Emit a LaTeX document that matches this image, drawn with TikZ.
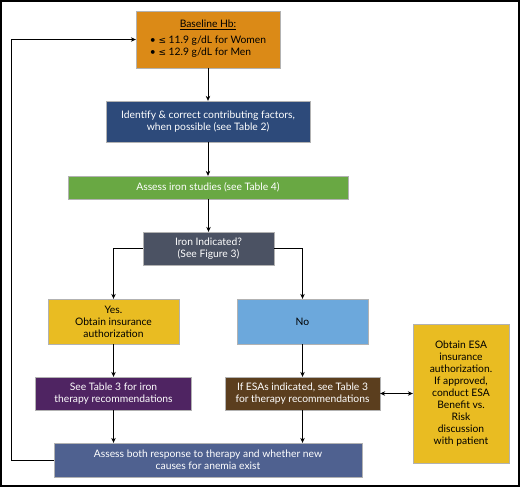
\documentclass[tikz,border=0pt]{standalone}
\usepackage{fontspec}
\setmainfont{Lato}
\newfontfamily\symfont{DejaVu Sans}
\usetikzlibrary{arrows.meta}
\definecolor{corange}{HTML}{DB8A17}
\definecolor{cdblue}{HTML}{2D4A7A}
\definecolor{cgreen}{HTML}{69A843}
\definecolor{cgray}{HTML}{4B5263}
\definecolor{cyellow}{HTML}{E9BC22}
\definecolor{clblue}{HTML}{6CA8DC}
\definecolor{cpurple}{HTML}{4F2462}
\definecolor{cbrown}{HTML}{5B3E1E}
\definecolor{cslate}{HTML}{4F6190}
\begin{document}
\begin{tikzpicture}[x=1pt,y=-1pt,
  box/.style={inner sep=1pt, align=center, font=\fontsize{10.3}{12}\selectfont, draw=white!70!black, line width=0.3pt},
  wbox/.style={box, text=white},
  kbox/.style={box, text=black},
  arr/.style={-{Stealth[length=5pt,width=4.5pt]}, line width=0.8pt},
  darr/.style={{Stealth[length=5pt,width=4.5pt]}-{Stealth[length=5pt,width=4.5pt]}, line width=0.8pt}]
\useasboundingbox (0,0) rectangle (520,488);
\draw[line width=1.5pt] (1,1) rectangle (519,486);

\node[kbox, fill=corange, minimum width=144pt, minimum height=57pt] (base) at (208,39.5)
  {\underline{Baseline Hb:}\\[4pt]\begin{tabular}{@{}l@{}}• {\symfont\fontsize{9}{12}\selectfont ≤} 11.9 g/dL for Women\\• {\symfont\fontsize{9}{12}\selectfont ≤} 12.9 g/dL for Men\end{tabular}};
\node[wbox, fill=cdblue, minimum width=204pt, minimum height=41pt] (ident) at (208,121.5)
  {Identify \& correct contributing factors,\\when possible (see Table 2)};
\node[wbox, fill=cgreen, minimum width=280pt, minimum height=23pt] (iron) at (208,187.5)
  {Assess iron studies (see Table 4)};
\node[wbox, fill=cgray, minimum width=131pt, minimum height=33pt] (ind) at (208.5,248.5)
  {Iron Indicated?\\(See Figure 3)};
\node[kbox, fill=cyellow, minimum width=131pt, minimum height=45pt] (yes) at (113.5,321.5)
  {Yes.\\Obtain insurance\\authorization};
\node[kbox, fill=clblue, minimum width=131pt, minimum height=45pt] (no) at (302.5,321.5)
  {No};
\node[wbox, fill=cpurple, minimum width=156pt, minimum height=33pt] (fe) at (113.5,393.5)
  {See Table 3 for iron\\therapy recommendations};
\node[wbox, fill=cbrown, minimum width=155pt, minimum height=33pt] (esa) at (302.5,393.5)
  {If ESAs indicated, see Table 3\\for therapy recommendations};
\node[kbox, fill=cyellow, minimum width=96pt, minimum height=139pt] (auth) at (461,393.5)
  {Obtain ESA\\insurance\\authorization.\\If approved,\\conduct ESA\\Benefit vs.\\Risk\\discussion\\with patient};
\node[wbox, fill=cslate, minimum width=308pt, minimum height=34pt] (resp) at (208,460)
  {Assess both response to therapy and whether new\\causes for anemia exist};

\coordinate (lb) at (11,460);
\coordinate (lt) at (11,39.5);

\draw[arr] (base.south) -- (ident.north);
\draw[arr] (ident.south) -- (iron.north);
\draw[arr] (iron.south -| ind.north) -- (ind.north);
\draw[arr] (ind.west) -| (yes.north);
\draw[arr] (ind.east) -| (no.north);
\draw[arr] (yes.south) -- (fe.north);
\draw[arr] (no.south) -- (esa.north);
\draw[arr] (fe.south) -- (fe.south |- resp.north);
\draw[arr] (esa.south) -- (esa.south |- resp.north);
\draw[darr] (esa.east) -- (auth.west |- esa.east);
\draw[arr] (resp.west) -- (lb) -- (lt) -- (base.west);
\end{tikzpicture}
\end{document}
